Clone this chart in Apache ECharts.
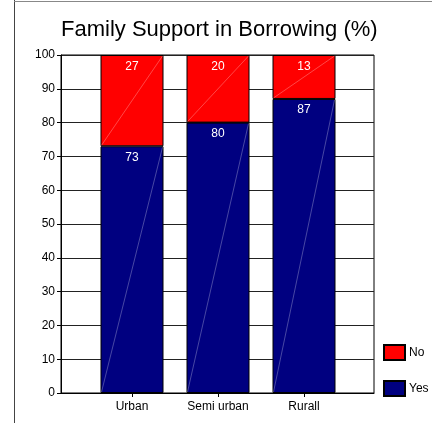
<!DOCTYPE html>
<html>
<head>
<meta charset="utf-8">
<style>
  html, body { margin: 0; padding: 0; background: #fff; }
  #chart { width: 432px; height: 423px; }
</style>
<script src="https://cdn.jsdelivr.net/npm/echarts@6/dist/echarts.min.js"></script>
</head>
<body>
<div id="chart"></div>
<script>
// Share of borrowers who received family support, by area (%)
const categories = ['Urban', 'Semi urban', 'Rurall'];
const yesValues = [73, 80, 87];
const noValues = [27, 20, 13];
const yTicks = [0, 10, 20, 30, 40, 50, 60, 70, 80, 90, 100];

const FONT = 'Liberation Sans, Arial, sans-serif';
const BAR_W = 63;

// Thin diagonal stroke across each stacked segment (bottom-left to top-right)
const diagData = [];
categories.forEach((c, i) => {
  diagData.push([i, 0, yesValues[i]]);
  diagData.push([i, yesValues[i], yesValues[i] + noValues[i]]);
});

const chart = echarts.init(document.getElementById('chart'), null, { renderer: 'canvas' });

chart.setOption({
  animation: false,
  backgroundColor: '#fff',
  title: {
    text: 'Family Support in Borrowing (%)',
    left: 61,
    top: 19,
    padding: 0,
    textStyle: { fontFamily: FONT, fontSize: 22, fontWeight: 'normal', color: '#000' }
  },
  graphic: [
    { type: 'line', shape: { x1: 14.5, y1: 0, x2: 14.5, y2: 423 }, style: { stroke: '#444', lineWidth: 1 } },
    { type: 'line', shape: { x1: 14, y1: 1.5, x2: 432, y2: 1.5 }, style: { stroke: '#888', lineWidth: 1 } }
  ],
  legend: {
    orient: 'vertical',
    left: 383,
    top: 344,
    padding: 0,
    itemWidth: 21,
    itemHeight: 15,
    itemGap: 19,
    icon: 'rect',
    data: ['No', 'Yes'],
    textStyle: { fontFamily: FONT, fontSize: 12, color: '#000', padding: [0, 0, 0, -1] }
  },
  grid: [
    { left: 61, right: 58, top: 55, bottom: 30, show: true, borderColor: '#000', borderWidth: 1, backgroundColor: 'transparent' },
    { left: 89, right: 85, top: 55, bottom: 30 }
  ],
  xAxis: [
    {
      gridIndex: 0, type: 'value', min: 0, max: 1,
      axisLine: { show: true, lineStyle: { color: '#000', width: 1 } },
      axisTick: { show: false }, axisLabel: { show: false }, splitLine: { show: false }
    },
    {
      gridIndex: 1, type: 'category', data: categories,
      axisLine: { show: false },
      axisTick: { show: true, alignWithLabel: true, length: 4, lineStyle: { color: '#000' } },
      axisLabel: { margin: 8, fontFamily: FONT, fontSize: 12, color: '#000' },
      splitLine: { show: false }
    }
  ],
  yAxis: [
    {
      gridIndex: 0, type: 'value', min: yTicks[0], max: yTicks[yTicks.length - 1], interval: yTicks[1] - yTicks[0],
      axisLine: { show: true, lineStyle: { color: '#000', width: 1 } },
      axisTick: { show: true, length: 4, lineStyle: { color: '#000' } },
      axisLabel: { margin: 6, fontFamily: FONT, fontSize: 12, color: '#000' },
      splitLine: { show: true, lineStyle: { color: '#222', width: 1 } }
    },
    {
      gridIndex: 1, type: 'value', min: 0, max: 100, show: false, splitLine: { show: false }
    }
  ],
  series: [
    {
      name: 'Yes', type: 'bar', stack: 'total', xAxisIndex: 1, yAxisIndex: 1,
      barWidth: BAR_W, data: yesValues,
      itemStyle: { color: '#000080', borderColor: '#000', borderWidth: 1 },
      label: { show: true, position: 'insideTop', distance: 5, color: '#fff', fontFamily: FONT, fontSize: 12 }
    },
    {
      name: 'No', type: 'bar', stack: 'total', xAxisIndex: 1, yAxisIndex: 1,
      barWidth: BAR_W, data: noValues,
      itemStyle: { color: '#ff0000', borderColor: '#000', borderWidth: 1 },
      label: { show: true, position: 'insideTop', distance: 6, color: '#fff', fontFamily: FONT, fontSize: 12 }
    },
    {
      type: 'custom', xAxisIndex: 1, yAxisIndex: 1, silent: true, z: 3,
      data: diagData,
      renderItem: function (params, api) {
        const p0 = api.coord([api.value(0), api.value(1)]);
        const p1 = api.coord([api.value(0), api.value(2)]);
        return {
          type: 'line',
          shape: { x1: p0[0] - BAR_W / 2 + 1, y1: p0[1] - 1, x2: p1[0] + BAR_W / 2 - 1, y2: p1[1] + 1 },
          style: { stroke: 'rgba(255,255,255,0.4)', lineWidth: 0.7 }
        };
      }
    }
  ]
});
</script>
</body>
</html>
